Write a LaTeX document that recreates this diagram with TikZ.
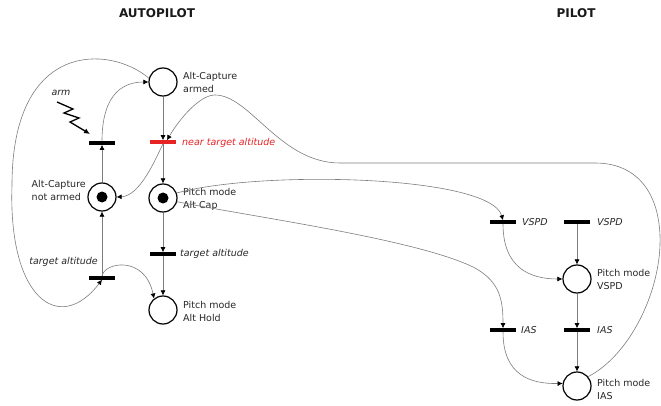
\documentclass[tikz,border=0pt]{standalone}
\usepackage{fontspec}
\setmainfont{DejaVu Sans}[ItalicFont={DejaVu Sans Oblique},BoldFont={DejaVu Sans Bold}]
\usetikzlibrary{arrows.meta}
\definecolor{arcgray}{RGB}{125,125,125}
\definecolor{alarm}{RGB}{232,35,35}
\begin{document}
\begin{tikzpicture}[x=1pt,y=-1pt,
  place/.style={circle,draw=black,line width=1.2pt,minimum size=28pt,inner sep=0pt},
  token/.style={circle,fill=black,minimum size=11pt,inner sep=0pt},
  trans/.style={rectangle,fill=black,minimum width=26pt,minimum height=3.2pt,inner sep=0pt},
  arc/.style={draw=arcgray,line width=0.6pt,-{Latex[length=5pt,width=5pt,color=black]}},
  lbl/.style={font=\fontsize{9.5}{13}\selectfont,align=left,anchor=west,inner sep=0pt,text=black!85},
  ilbl/.style={lbl,font=\fontsize{9.5}{13}\selectfont\itshape},
  head/.style={font=\fontsize{12}{14}\selectfont\bfseries,inner sep=0pt,text=black!90}]
\useasboundingbox (0,0) rectangle (661,406);

% column headings
\node[head] (hauto) at (157,13) {AUTOPILOT};
\node[head] (hpilot) at (576,13) {PILOT};

% places
\node[place] (p1) at (163,82) {};
\node[place] (p2) at (102,197) {};
\node[place] (p3) at (163,198) {};
\node[place] (p4) at (163,310) {};
\node[place] (p5) at (577,279) {};
\node[place] (p6) at (577,386) {};
\node[token] (k2) at (p2) {};
\node[token] (k3) at (p3) {};

% transitions
\node[trans] (tarm) at (102,143) {};
\node[trans,fill=alarm] (tnear) at (163,142) {};
\node[trans] (tt1) at (102,278) {};
\node[trans] (tt2) at (163,254) {};
\node[trans] (tv1) at (503,222) {};
\node[trans] (tv2) at (577,222) {};
\node[trans] (ti1) at (503,330) {};
\node[trans] (ti2) at (577,330) {};

% place labels
\node[lbl] (l1) at (183,82) {Alt-Capture\\armed};
\node[lbl,anchor=east] (l2) at (86,190) {Alt-Capture\\not armed};
\node[lbl] (l3) at (183,199) {Pitch mode\\Alt Cap};
\node[lbl] (l4) at (183,311) {Pitch mode\\Alt Hold};
\node[lbl] (l5) at (597,279) {Pitch mode\\VSPD};
\node[lbl] (l6) at (597,389) {Pitch mode\\IAS};

% transition labels
\node[ilbl,text=alarm] (lnear) at (182,143) {near target altitude};
\node[ilbl] (lt2) at (180,254) {target altitude};
\node[ilbl,anchor=east] (lt1) at (98,262) {target altitude};
\node[ilbl] (lv1) at (522,222) {VSPD};
\node[ilbl] (lv2) at (597,222) {VSPD};
\node[ilbl] (li1) at (521,330) {IAS};
\node[ilbl] (li2) at (597,330) {IAS};
\node[ilbl,anchor=center] (larm) at (61,93) {arm};

% external "arm" event
\coordinate (zap) at (57,102);
\draw[line width=1.3pt,-{Latex[length=6pt,width=5.5pt]}]
  (zap) -- (73,109) -- (64,113) -- (79,118) -- (70,122) -- ([xshift=-12pt,yshift=9pt]tarm.center);

% straight arcs
\draw[arc] (p1) -- (tnear);
\draw[arc] (tnear) -- (p3);
\draw[arc] (p3) -- (tt2);
\draw[arc] (tt2) -- (p4);
\draw[arc] (p2) -- (tarm);
\draw[arc] (tt1) -- (p2);
\draw[arc] (tv2) -- (p5);
\draw[arc] (p5) -- (ti2);
\draw[arc] (ti2) -- (p6);

% curved arcs, autopilot side
\draw[arc] (tarm.north) .. controls (102,100) and (118,82) .. (p1.west);
\draw[arc] (tt1.north) .. controls (104,262) and (145,255) .. (p4.128);
\draw[arc] (p1.165) .. controls (110,45) and (12,40) .. (12,185)
  .. controls (8,300) and (60,335) .. (tt1.south);
\draw[arc] (tnear.south) .. controls (155,160) and (140,196) .. (p2.east);

% pilot mode changes feeding back into the capture
\draw[arc] (p6.40) .. controls (630,355) and (662,290) .. (660,235)
  .. controls (658,190) and (635,163) .. (595,163) -- (340,163)
  .. controls (280,163) and (250,95) .. (215,95)
  .. controls (200,95) and (180,118) .. ([xshift=4pt]tnear.north);

% alt capture interrupted by the pilot
\draw[arc] (p3.20) .. controls (260,170) and (490,175) .. (tv1.north);
\draw[arc] (tv1.south) .. controls (503,268) and (530,279) .. (p5.west);
\draw[arc] (p3.-15) .. controls (260,218) and (420,240) .. (475,268)
  .. controls (500,282) and (503,300) .. (ti1.north);
\draw[arc] (ti1.south) .. controls (503,375) and (530,384) .. (p6.170);
\end{tikzpicture}
\end{document}
